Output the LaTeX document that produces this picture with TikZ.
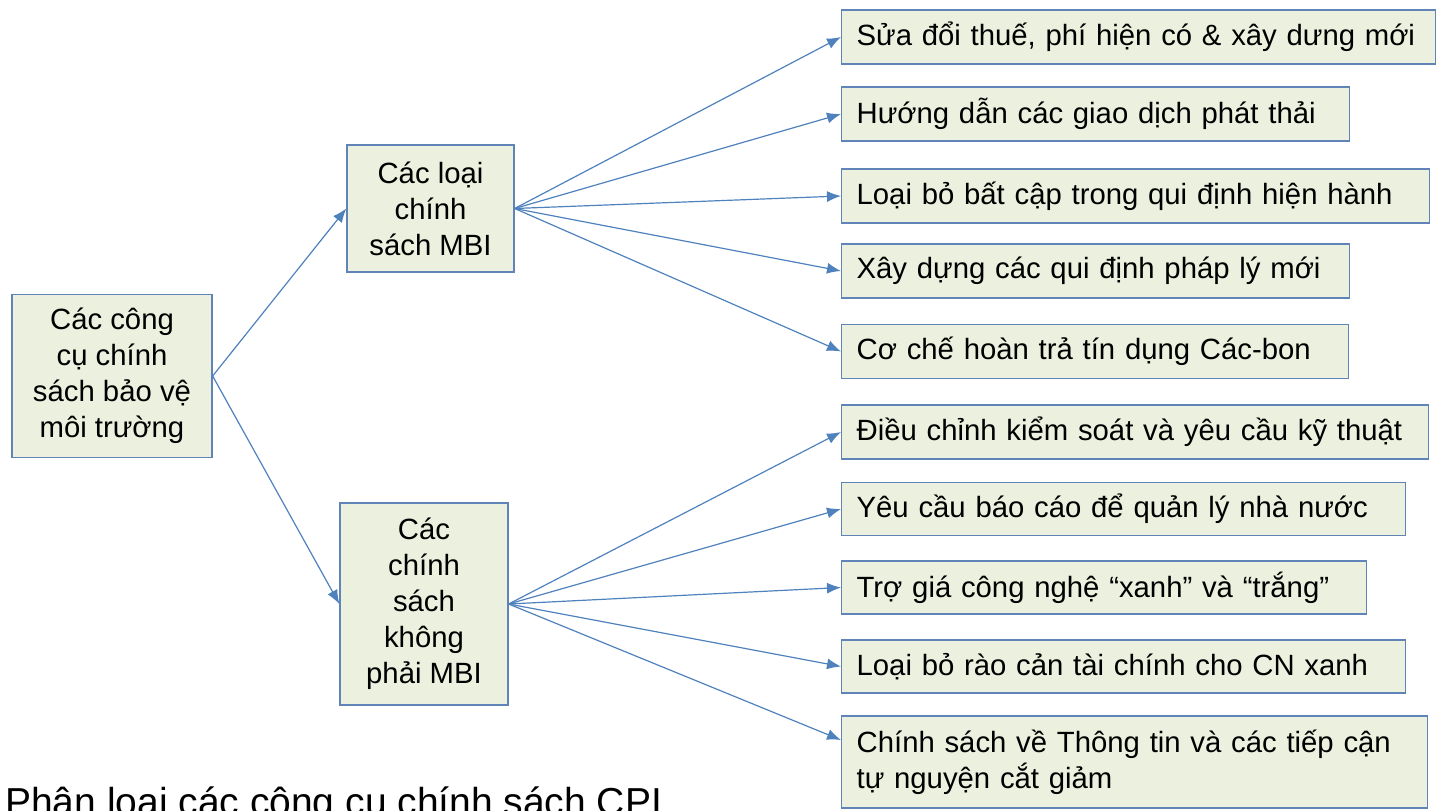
\documentclass[tikz,border=0pt]{standalone}
\usepackage{fontspec}
\setmainfont{Liberation Sans}
\usetikzlibrary{arrows.meta}
\definecolor{boxfill}{RGB}{235,241,222}
\definecolor{boxline}{RGB}{96,132,184}
\definecolor{arrowblue}{RGB}{79,129,189}
\begin{document}
\begin{tikzpicture}
  [x=1pt, y=-1pt,
   box/.style={draw=boxline, fill=boxfill, line width=1.3pt, inner sep=0pt,
     font=\fontsize{29.3}{36}\selectfont},
   leaf/.style={box, anchor=west, inner xsep=15pt, align=left},
   link/.style={draw=arrowblue, line width=1.2pt, -{Latex[length=14pt,width=11pt]}}]
  \useasboundingbox (0,0) rectangle (1438,811);
  % Setup constants
  \def\leafx{841}
  % Root and the two groups of policies
  \node (root) at (112,376) [box, minimum width=200pt, minimum height=163pt, align=center]
    {Các công\\cụ chính\\sách bảo vệ\\môi trường};
  \node (mbi) at (430.5,208.5) [box, minimum width=167pt, minimum height=127pt, align=center]
    {Các loại\\chính\\sách MBI};
  \node (nonmbi) at (424,604) [box, minimum width=168pt, minimum height=202pt, align=center]
    {Các\\chính\\sách\\không\\phải MBI};
  \draw [link] (root.east) -- (mbi.west);
  \draw [link] (root.east) -- (nonmbi.west);
  % MBI instruments
  \foreach \i/\y/\w/\txt in {1/37/594/{Sửa đổi thuế, phí hiện có \& xây dưng mới},
      2/114/508/{Hướng dẫn các giao dịch phát thải},
      3/196/588/{Loại bỏ bất cập trong qui định hiện hành},
      4/271/508/{Xây dựng các qui định pháp lý mới},
      5/351.5/507/{Cơ chế hoàn trả tín dụng Các-bon}} {
    \pgfmathsetmacro{\tw}{\w-30}
    \node (m\i) at (\leafx,\y) [leaf, text width=\tw pt, minimum height=54pt] {\txt};
    \draw [link] (mbi.east) -- (m\i.west);
  }
  % Non-MBI instruments
  \foreach \i/\y/\w/\h/\txt in {1/432/587/54/{Điều chỉnh kiểm soát và yêu cầu kỹ thuật},
      2/509/564/53/{Yêu cầu báo cáo để quản lý nhà nước},
      3/587.5/525/53/{Trợ giá công nghệ “xanh” và “trắng”},
      4/666.5/564/53/{Loại bỏ rào cản tài chính cho CN xanh},
      5/762/586/92/{Chính sách về Thông tin và các tiếp cận\\tự nguyện cắt giảm}} {
    \pgfmathsetmacro{\tw}{\w-30}
    \node (n\i) at (\leafx,\y) [leaf, text width=\tw pt, minimum height=\h pt] {\txt};
  }
  \foreach \i in {1,...,4} {
    \draw [link] (nonmbi.east) -- (n\i.west);
  }
  \draw [link] (nonmbi.east) -- ([yshift=22pt]n5.west);
  % Caption, cut by the lower edge
  \node (caption) at (5,815) [anchor=base west, inner sep=0pt, font=\fontsize{39}{46}\selectfont]
    {Phân loại các công cụ chính sách CPI};
\end{tikzpicture}
\end{document}
